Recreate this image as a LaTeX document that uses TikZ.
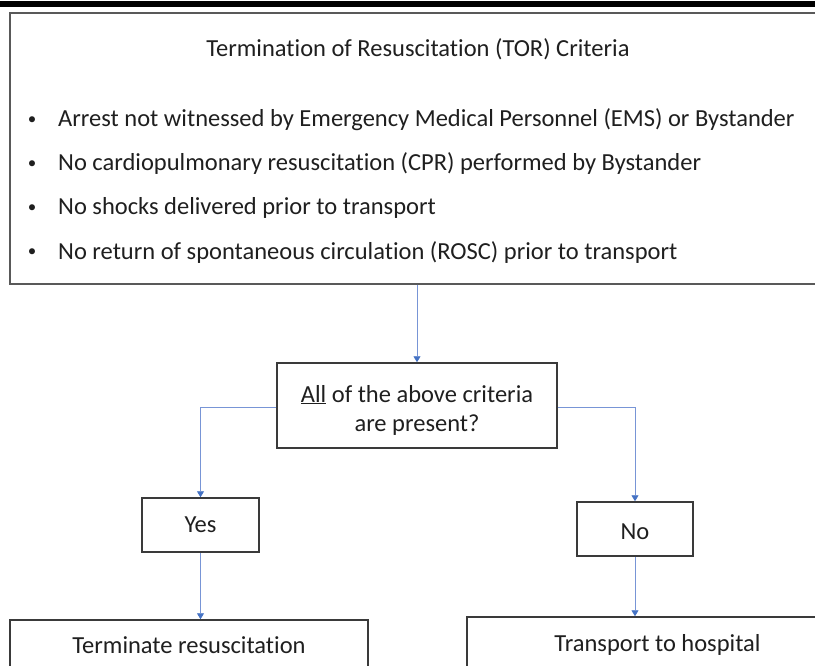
\documentclass[tikz,border=0pt]{standalone}
\usepackage{fontspec}
\setmainfont{Carlito}[Ligatures=NoCommon]
\usetikzlibrary{arrows.meta}
\definecolor{conn}{HTML}{4472C4}
\definecolor{conline}{HTML}{7895D6}
\definecolor{boxline}{HTML}{3A3A3A}
\begin{document}
\begin{tikzpicture}[x=1pt,y=-1pt,
  txt/.style={inner sep=0pt,font=\fontsize{24.5}{29}\selectfont,text=black!88},
  bul/.style={inner sep=0pt,font=\fontsize{17}{20}\selectfont,text=black!88},
  frame/.style={draw=boxline,line width=1.5pt,inner sep=0pt},
  conn/.style={draw=conline,line width=0.9pt,-{Triangle[width=7pt,length=6pt,fill=conn,color=conn]}}]
\useasboundingbox (0,0) rectangle (815,666);
\clip (0,0) rectangle (815,666);
% top bar
\fill[black] (0,1) rectangle (815,7);
% main criteria box
\node[frame,draw=black!65,minimum width=816pt,minimum height=271pt] (mainbox) at (418,148.5) {};
\node[txt,anchor=base] (title) at (418,57) {Termination of Resuscitation (TOR) Criteria};
\node[bul,anchor=base] (b1) at (32,125) {•};
\node[bul,anchor=base] (b2) at (32,169) {•};
\node[bul,anchor=base] (b3) at (32,213) {•};
\node[bul,anchor=base] (b4) at (32,257) {•};
\node[txt,anchor=base west] (c1) at (58,127) {Arrest not witnessed by Emergency Medical Personnel (EMS) or Bystander};
\node[txt,anchor=base west] (c2) at (58,171) {No cardiopulmonary resuscitation (CPR) performed by Bystander};
\node[txt,anchor=base west] (c3) at (58,215) {No shocks delivered prior to transport};
\node[txt,anchor=base west] (c4) at (58,259) {No return of spontaneous circulation (ROSC) prior to transport};
% question box
\node[frame,minimum width=280pt,minimum height=85pt] (qbox) at (417,405.5) {};
\node[txt,anchor=base] (q1) at (417,402) {\underline{All} of the above criteria};
\node[txt,anchor=base] (q2) at (417,431) {are present?};
% yes / no
\node[frame,minimum width=117pt,minimum height=54pt] (yesbox) at (200.5,525) {};
\node[txt,anchor=base] (yes) at (200.5,532) {Yes};
\node[frame,minimum width=116pt,minimum height=54pt] (nobox) at (635,529) {};
\node[txt,anchor=base] (no) at (635,539) {No};
% outcomes
\node[frame,minimum width=358pt,minimum height=80pt] (termbox) at (189,660) {};
\node[txt,anchor=base] (term) at (189,653) {Terminate resuscitation};
\node[frame,minimum width=381pt,minimum height=80pt] (transbox) at (657.5,657) {};
\node[txt,anchor=base] (trans) at (657.5,651) {Transport to hospital};
% connectors
\draw[conn] (mainbox.south -| qbox.north) -- (qbox.north);
\draw[conn] (qbox.west |- 0,407) -| (yesbox.north);
\draw[conn] (qbox.east |- 0,407) -| (nobox.north);
\draw[conn] (yesbox.south) -- (yesbox.south |- termbox.north);
\draw[conn] (nobox.south) -- (nobox.south |- transbox.north);
\end{tikzpicture}
\end{document}
